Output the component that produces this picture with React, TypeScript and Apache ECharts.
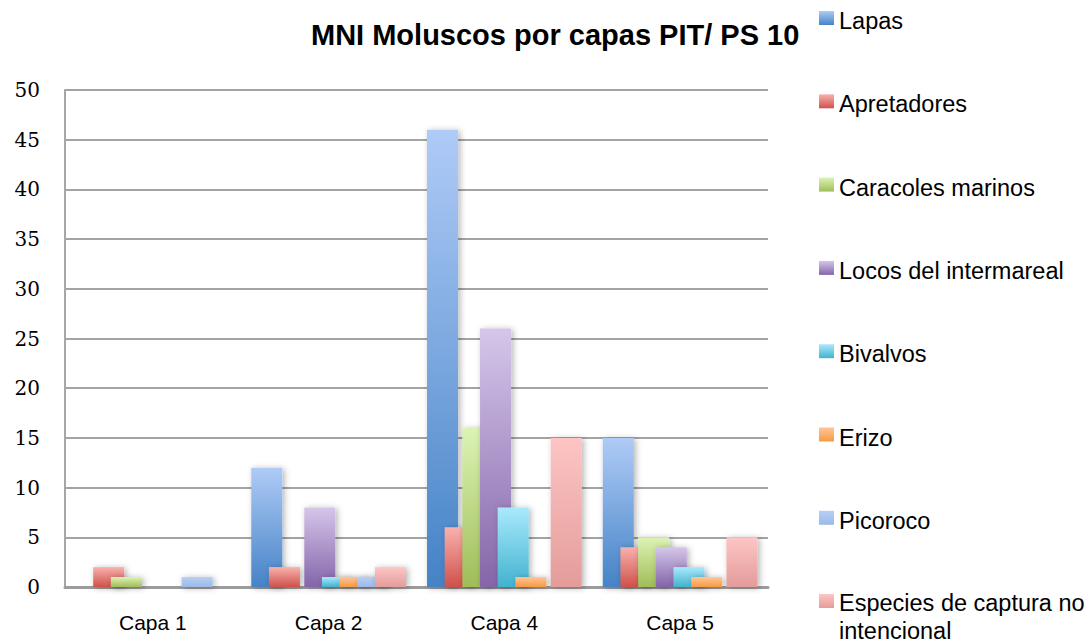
import React, { useEffect, useRef } from "react";
import * as echarts from "echarts";

const categories = ["Capa 1", "Capa 2", "Capa 4", "Capa 5"];
const yTicks = [0, 5, 10, 15, 20, 25, 30, 35, 40, 45, 50];

const lapas = [0, 12, 46, 15];
const apretadores = [2, 2, 6, 4];
const caracolesMarinos = [1, 0, 16, 5];
const locosIntermareal = [0, 8, 26, 4];
const bivalvos = [0, 1, 8, 2];
const erizo = [0, 1, 1, 1];
const picoroco = [1, 1, 0, 0];
const especiesNoIntencional = [0, 2, 15, 5];

const seriesNames = [
  "Lapas",
  "Apretadores",
  "Caracoles marinos",
  "Locos del intermareal",
  "Bivalvos",
  "Erizo",
  "Picoroco",
  "Especies de captura no intencional",
];
const seriesValues = [
  lapas,
  apretadores,
  caracolesMarinos,
  locosIntermareal,
  bivalvos,
  erizo,
  picoroco,
  especiesNoIntencional,
];
const gradients: [string, string][] = [
  ["#AFCBF7", "#4583C6"],
  ["#F9B1AD", "#CF514B"],
  ["#DCF3B4", "#A0BD58"],
  ["#D5C6EA", "#8465A9"],
  ["#AAE9FD", "#42B3CF"],
  ["#FFC59B", "#F79A42"],
  ["#B7CFF6", "#9CB9E8"],
  ["#FDC5C4", "#E39C9A"],
];

function grad(c: [string, string]) {
  return {
    type: "linear",
    x: 0,
    y: 0,
    x2: 0,
    y2: 1,
    colorStops: [
      { offset: 0, color: c[0] },
      { offset: 1, color: c[1] },
    ],
  };
}

export default function App() {
  const ref = useRef<HTMLDivElement>(null);
  useEffect(() => {
    if (!ref.current) return;
    const chart = echarts.init(ref.current, null, { renderer: "svg" });
    const sans = "Liberation Sans, Arial, sans-serif";
    const legendRich = (gapH: number) => ({
      fontFamily: sans,
      fontSize: 23.5,
      color: "#000",
      lineHeight: 28,
      rich: {
        g: { fontSize: 1, lineHeight: gapH },
        t: { fontFamily: sans, fontSize: 23.5, color: "#000", lineHeight: 28 },
      },
    });
    chart.setOption({
      animation: false,
      backgroundColor: "#fff",
      title: {
        text: "MNI Moluscos por capas PIT/ PS 10",
        left: 311,
        top: 20,
        padding: 0,
        textStyle: {
          fontFamily: sans,
          fontWeight: "bold",
          fontSize: 29,
          lineHeight: 30,
          color: "#000",
        },
      },
      legend: [
        {
          orient: "vertical",
          left: 819,
          top: 1,
          padding: 0,
          itemWidth: 15,
          itemHeight: 14,
          itemGap: 49.3,
          icon: "rect",
          data: seriesNames.slice(0, 7),
          formatter: (name: string) => "{g| }\n{t|" + name + "}",
          textStyle: legendRich(6),
          itemStyle: { shadowBlur: 0, shadowColor: "transparent" },
        },
        {
          orient: "vertical",
          left: 819,
          top: 557,
          padding: 0,
          itemWidth: 15,
          itemHeight: 14,
          icon: "rect",
          data: [seriesNames[7]],
          formatter: () => "{g| }\n{t|Especies de captura no}\n{t|intencional}",
          textStyle: legendRich(32),
          itemStyle: { shadowBlur: 0, shadowColor: "transparent" },
        },
      ],
      grid: { left: 65, right: 324, top: 90, bottom: 56 },
      xAxis: {
        type: "category",
        data: categories,
        axisLine: { show: true, lineStyle: { color: "#9C9C9C", width: 3 } },
        axisTick: { show: false },
        axisLabel: {
          margin: 25,
          fontFamily: sans,
          fontSize: 21,
          color: "#000",
        },
      },
      yAxis: {
        type: "value",
        min: yTicks[0],
        max: yTicks[yTicks.length - 1],
        interval: 5,
        axisLine: { show: true, lineStyle: { color: "#A6A6A6", width: 2 } },
        axisTick: { show: false },
        splitLine: {
          show: true,
          lineStyle: { color: "#A3A3A3", width: 2 },
        },
        axisLabel: {
          margin: 25,
          fontFamily: "'DejaVu Serif', serif",
          fontSize: 20,
          color: "#000",
        },
      },
      series: seriesNames.map((name, i) => ({
        name,
        type: "bar",
        data: seriesValues[i],
        barWidth: 31,
        barGap: "-43%",
        itemStyle: {
          color: grad(gradients[i]),
          shadowColor: "rgba(0,0,0,0.3)",
          shadowBlur: 6,
          shadowOffsetX: 2,
          shadowOffsetY: 1,
        },
        emphasis: { disabled: true },
      })),
    });
    return () => chart.dispose();
  }, []);
  return (
    <div
      ref={ref}
      style={{ position: "fixed", left: 0, top: 0, width: 1092, height: 643 }}
    />
  );
}
